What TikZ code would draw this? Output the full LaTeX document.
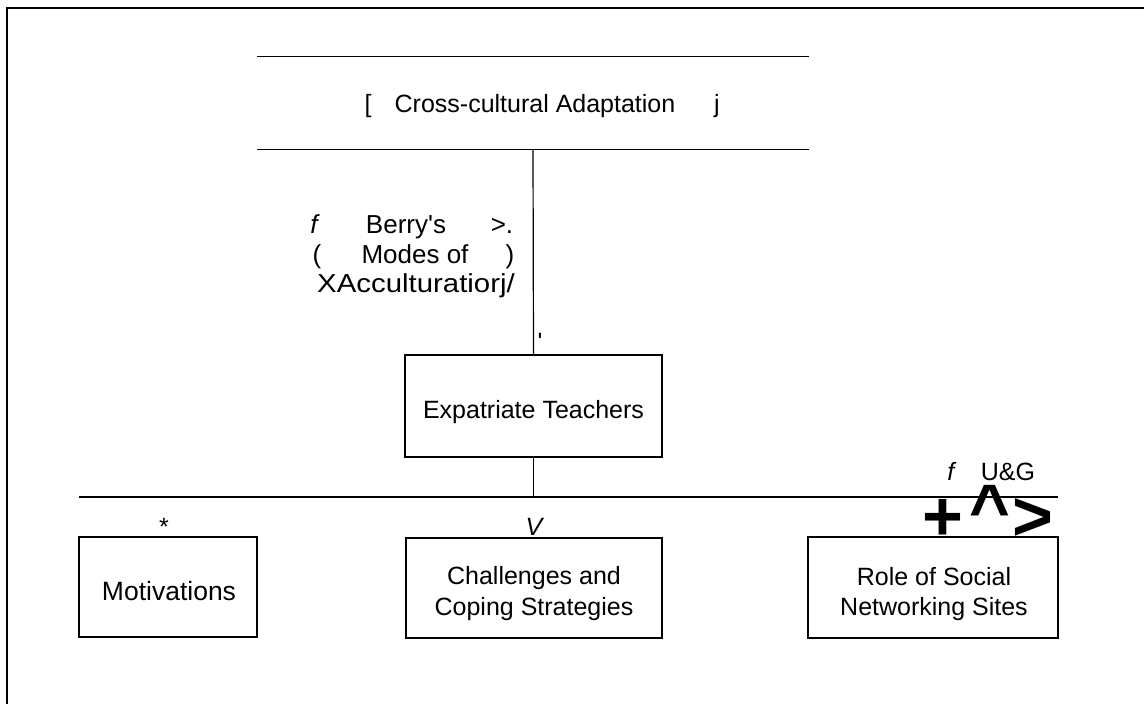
\documentclass[tikz,border=0pt]{standalone}
\usepackage{graphicx}
\usepackage{fontspec}
\setmainfont{Liberation Sans}
% straight apostrophe, bypassing the TeX quote mapping
\newcommand\straightquote{\XeTeXglyph\XeTeXcharglyph"27\relax}
\begin{document}
\begin{tikzpicture}[x=1pt,y=-1pt,
  every node/.style={font=\fontsize{25}{30}\selectfont, text=black, inner sep=0pt},
  rule/.style={line width=1.2pt, draw=black},
  frameline/.style={line width=1.6pt, draw=black},
  box/.style={draw=black, line width=1.2pt},
  band/.style={},
  glyph/.style={anchor=base},
  berry/.style={anchor=base, font=\fontsize{26}{30}\selectfont},
  bigglyph/.style={anchor=base, font=\fontsize{70}{70}\selectfont\bfseries}
]
\useasboundingbox (0,0) rectangle (1144,704);

% partial page frame
\draw[frameline] (1144,8) -- (7,8) -- (7,704);

% top band: only upper and lower rules
\node[band, minimum width=551pt, minimum height=92pt] (adapt) at (533,103) {};
\draw[rule] (adapt.north west) -- (adapt.north east);
\draw[rule] (adapt.south west) -- (adapt.south east);
\node[glyph] (adaptL) at (368,112) {[};
\node[glyph] (adaptT) at (535,112) {Cross-cultural Adaptation};
\node[glyph] (adaptR) at (717,112) {j};

% acculturation label
\node[berry] (b1a) at (315,233) {\textit{f}};
\node[berry] (b1b) at (406,233) {Berry\straightquote s};
\node[berry] (b1c) at (502,233) {>.};
\node[berry] (b2a) at (317,263) {(};
\node[berry] (b2b) at (415,263) {Modes of};
\node[berry] (b2c) at (510,263) {)};
\node[berry] (b3) at (416,292) {\scalebox{1.13}[1]{XAcculturatiorj/}};
\node[glyph] (tick) at (540,350) {\straightquote};

% central box
\node[box, minimum width=257pt, minimum height=102pt] (teach) at (533.5,406) {};
\node[glyph] (teachT) at (533.5,418) {Expatriate Teachers};

% bus
\coordinate (busL) at (79,497);
\coordinate (busR) at (1058,497);
\draw[rule] (adapt.south) -- (teach.north);
\draw[rule] (teach.south) -- (teach.south |- busL);
\draw[rule] (busL) -- (busR);

% lower boxes
\node[box, minimum width=178pt, minimum height=100pt] (mot) at (168,587) {};
\node[glyph, font=\fontsize{26.5}{30}\selectfont] (motT) at (169,600) {Motivations};

\node[box, minimum width=256pt, minimum height=100pt] (chal) at (534,588) {};
\node[glyph] (chalA) at (534,584) {Challenges and};
\node[glyph] (chalB) at (534,615) {Coping Strategies};

\node[box, minimum width=250pt, minimum height=101pt] (role) at (933,587.5) {};
\node[glyph] (roleA) at (934,585) {Role of Social};
\node[glyph] (roleB) at (934,615) {Networking Sites};

% marks above the lower boxes
\node[glyph] (star) at (164,535) {*};
\node[glyph] (vee) at (535,535) {\textit{V}};
\node[glyph] (ugf) at (952,480) {\textit{f}};
\node[glyph] (ug) at (1008,480) {U\&G};
\node[bigglyph] (plus) at (943,540) {+};
\node[bigglyph] (caret) at (990,533) {\textasciicircum};
\node[bigglyph] (gt) at (1033,540) {>};
\end{tikzpicture}
\end{document}
